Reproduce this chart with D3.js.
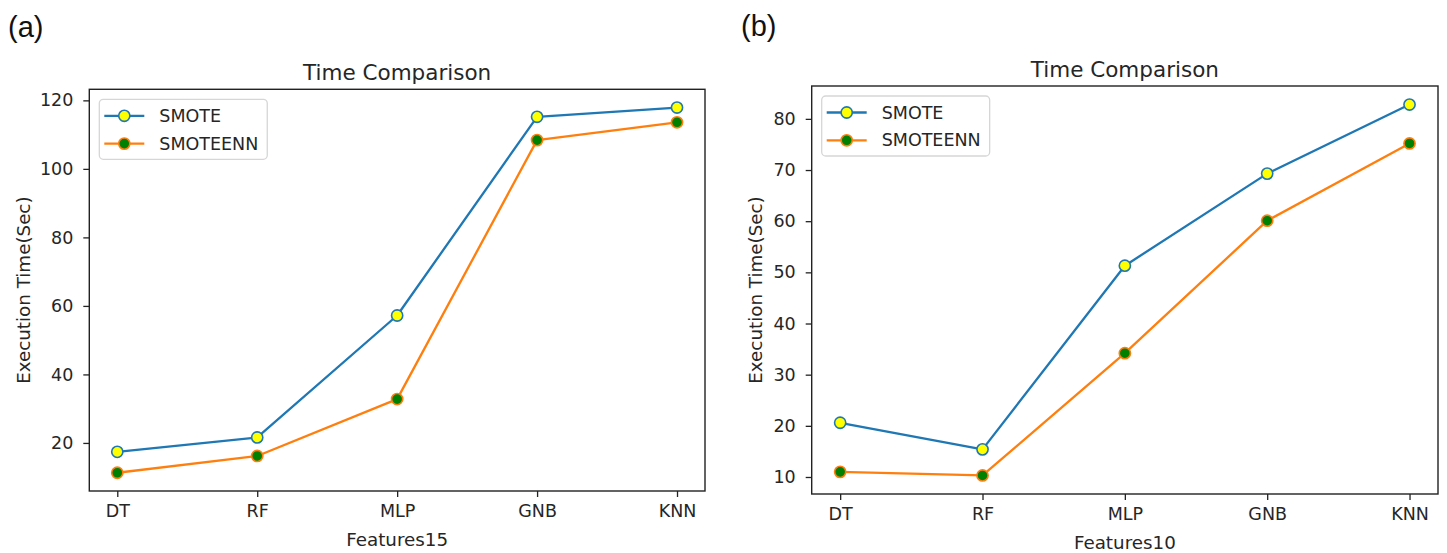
<!DOCTYPE html>
<html>
<head>
<meta charset="utf-8">
<script src="https://cdn.jsdelivr.net/npm/d3@7"></script>
<style>
  html, body { margin: 0; padding: 0; background: #fff; }
  svg { display: block; }
  text { font-family: "DejaVu Sans", sans-serif; fill: #262626; }
  .panel-tag { font-family: "Liberation Sans", Arial, sans-serif; fill: #111; }
</style>
</head>
<body>
<svg id="fig" width="1447" height="553"></svg>
<script>
// Classifier categories on the x axis
const categories = ["DT", "RF", "MLP", "GNB", "KNN"];

// Execution time (seconds), 15-feature set
const smote15 = [17.4, 21.6, 57.2, 115.2, 117.9];
const smoteenn15 = [11.3, 16.2, 32.8, 108.4, 113.6];
const yTicks15 = [20, 40, 60, 80, 100, 120];

// Execution time (seconds), 10-feature set
const smote10 = [20.6, 15.4, 51.3, 69.3, 82.8];
const smoteenn10 = [11.0, 10.3, 34.2, 60.1, 75.2];
const yTicks10 = [10, 20, 30, 40, 50, 60, 70, 80];

const seriesNames = ["SMOTE", "SMOTEENN"];
const lineColors = ["#1f77b4", "#ff7f0e"];
const markerFill = ["#ffff00", "#008000"];

const svg = d3.select("#fig");
const FONT = 17.5;
const LABEL_FONT = 18.3;

function drawPanel(cfg) {
  const { box, series, yTicks, xLabel, tag, tagPos } = cfg;
  const g = svg.append("g");

  const x = d3.scalePoint().domain(categories).range([box.left, box.right]).padding(0.2);

  // y range padded by 5% of the data span on each side
  const all = series.flat();
  const lo = d3.min(all), hi = d3.max(all);
  const pad = (hi - lo) * 0.05;
  const y = d3.scaleLinear().domain([lo - pad, hi + pad]).range([box.bottom, box.top]);

  // axes frame
  g.append("rect")
    .attr("x", box.left).attr("y", box.top)
    .attr("width", box.right - box.left).attr("height", box.bottom - box.top)
    .attr("fill", "none").attr("stroke", "#222").attr("stroke-width", 1.4);

  // y axis
  const yAxis = g.append("g")
    .attr("transform", `translate(${box.left},0)`)
    .call(d3.axisLeft(y).tickValues(yTicks).tickSize(6).tickPadding(10).tickFormat(d3.format("d")));
  yAxis.select(".domain").remove();
  yAxis.selectAll(".tick line").attr("stroke", "#222").attr("stroke-width", 1.3);
  yAxis.selectAll(".tick text").attr("font-size", FONT).attr("font-family", "DejaVu Sans").attr("fill", "#262626");

  // x axis
  const xAxis = g.append("g")
    .attr("transform", `translate(0,${box.bottom})`)
    .call(d3.axisBottom(x).tickSize(6).tickPadding(8));
  xAxis.select(".domain").remove();
  xAxis.selectAll(".tick line").attr("stroke", "#222").attr("stroke-width", 1.3);
  xAxis.selectAll(".tick text").attr("font-size", FONT).attr("font-family", "DejaVu Sans").attr("fill", "#262626");

  const cx = (box.left + box.right) / 2;
  const cy = (box.top + box.bottom) / 2;

  // title
  g.append("text").attr("x", cx).attr("y", box.top - 9.5)
    .attr("text-anchor", "middle").attr("font-size", 21.5).text("Time Comparison");

  // axis labels
  g.append("text").attr("x", cx).attr("y", box.bottom + 55)
    .attr("text-anchor", "middle").attr("font-size", LABEL_FONT).text(xLabel);
  g.append("text")
    .attr("transform", `translate(${box.left - cfg.yLabelOffset},${cy}) rotate(-90)`)
    .attr("text-anchor", "middle").attr("dominant-baseline", "central")
    .attr("font-size", LABEL_FONT).text("Execution Time(Sec)");

  // series lines and markers
  const line = d3.line().x((d, i) => x(categories[i])).y(d => y(d));
  series.forEach((vals, s) => {
    g.append("path").datum(vals)
      .attr("d", line).attr("fill", "none")
      .attr("stroke", lineColors[s]).attr("stroke-width", 2.3)
      .attr("stroke-linejoin", "round");
    g.selectAll(null).data(vals).enter().append("circle")
      .attr("cx", (d, i) => x(categories[i])).attr("cy", d => y(d)).attr("r", 5.6)
      .attr("fill", markerFill[s]).attr("stroke", lineColors[s]).attr("stroke-width", 1.6);
  });

  // legend
  const lg = g.append("g").attr("transform", `translate(${box.left + 10},${box.top + 10})`);
  const frame = lg.append("rect").attr("rx", 4).attr("ry", 4)
    .attr("fill", "#fff").attr("fill-opacity", 0.8)
    .attr("stroke", "#d6d6d6").attr("stroke-width", 1.3);
  let maxW = 0;
  seriesNames.forEach((name, s) => {
    const ry = 16.5 + s * 27.8;
    lg.append("line").attr("x1", 5).attr("x2", 45).attr("y1", ry).attr("y2", ry)
      .attr("stroke", lineColors[s]).attr("stroke-width", 2.3);
    lg.append("circle").attr("cx", 25).attr("cy", ry).attr("r", 5.6)
      .attr("fill", markerFill[s]).attr("stroke", lineColors[s]).attr("stroke-width", 1.6);
    const t = lg.append("text").attr("x", 60).attr("y", ry)
      .attr("dominant-baseline", "central").attr("font-size", FONT).text(name);
    maxW = Math.max(maxW, t.node().getComputedTextLength());
  });
  frame.attr("x", 0).attr("y", 0).attr("width", 60 + maxW + 9).attr("height", 60);

  // panel tag
  svg.append("text").attr("class", "panel-tag")
    .attr("x", tagPos[0]).attr("y", tagPos[1]).attr("font-size", 29).text(tag);
}

drawPanel({
  box: { left: 89.3, right: 705, top: 89.3, bottom: 491 },
  series: [smote15, smoteenn15],
  yTicks: yTicks15,
  xLabel: "Features15",
  yLabelOffset: 66,
  tag: "(a)",
  tagPos: [8, 37]
});

drawPanel({
  box: { left: 811.7, right: 1438, top: 86, bottom: 494 },
  series: [smote10, smoteenn10],
  yTicks: yTicks10,
  xLabel: "Features10",
  yLabelOffset: 56,
  tag: "(b)",
  tagPos: [741, 36]
});
</script>
</body>
</html>
